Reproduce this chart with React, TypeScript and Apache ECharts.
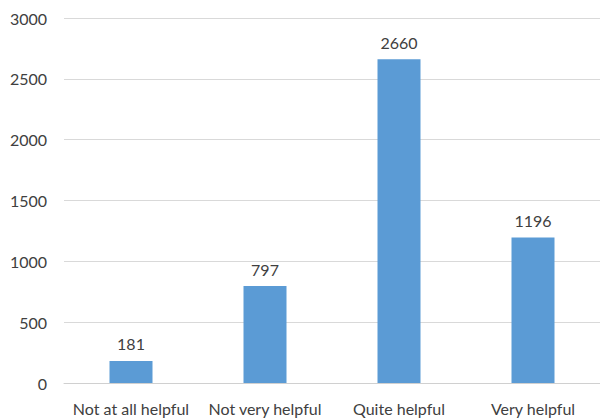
import React, { useEffect, useRef } from "react";
import * as echarts from "echarts";

const categories = ["Not at all helpful", "Not very helpful", "Quite helpful", "Very helpful"];
const counts = [181, 797, 2660, 1196];
const yTicks = { min: 0, max: 3000, interval: 500 };

const FONT = "Lato, 'Open Sans', sans-serif";
const TEXT = "#404040";

export default function App() {
  const ref = useRef<HTMLDivElement>(null);

  useEffect(() => {
    if (!ref.current) return;
    const chart = echarts.init(ref.current, null, { renderer: "svg" });
    chart.setOption({
      animation: false,
      backgroundColor: "#ffffff",
      grid: { left: 64, top: 18, width: 545, height: 365, containLabel: false },
      xAxis: {
        type: "category",
        data: categories,
        axisLine: { show: true, lineStyle: { color: "#d0d0d0", width: 1 } },
        axisTick: { show: false },
        axisLabel: { color: TEXT, fontFamily: FONT, fontSize: 16, margin: 17, interval: 0 },
      },
      yAxis: {
        type: "value",
        min: yTicks.min,
        max: yTicks.max,
        interval: yTicks.interval,
        axisLine: { show: false },
        axisTick: { show: false },
        splitLine: { lineStyle: { color: "#d9d9d9", width: 1 } },
        axisLabel: {
          color: TEXT,
          fontFamily: FONT,
          fontSize: 16,
          margin: 17,
          formatter: (v: number) => String(v),
        },
      },
      series: [
        {
          type: "bar",
          data: counts,
          barWidth: 43,
          itemStyle: { color: "#5b9bd5" },
          label: {
            show: true,
            position: "top",
            distance: 9,
            color: TEXT,
            fontFamily: FONT,
            fontSize: 16,
          },
        },
      ],
    });
    return () => chart.dispose();
  }, []);

  return <div ref={ref} style={{ width: 600, height: 419, position: "absolute", left: 0, top: 0 }} />;
}
